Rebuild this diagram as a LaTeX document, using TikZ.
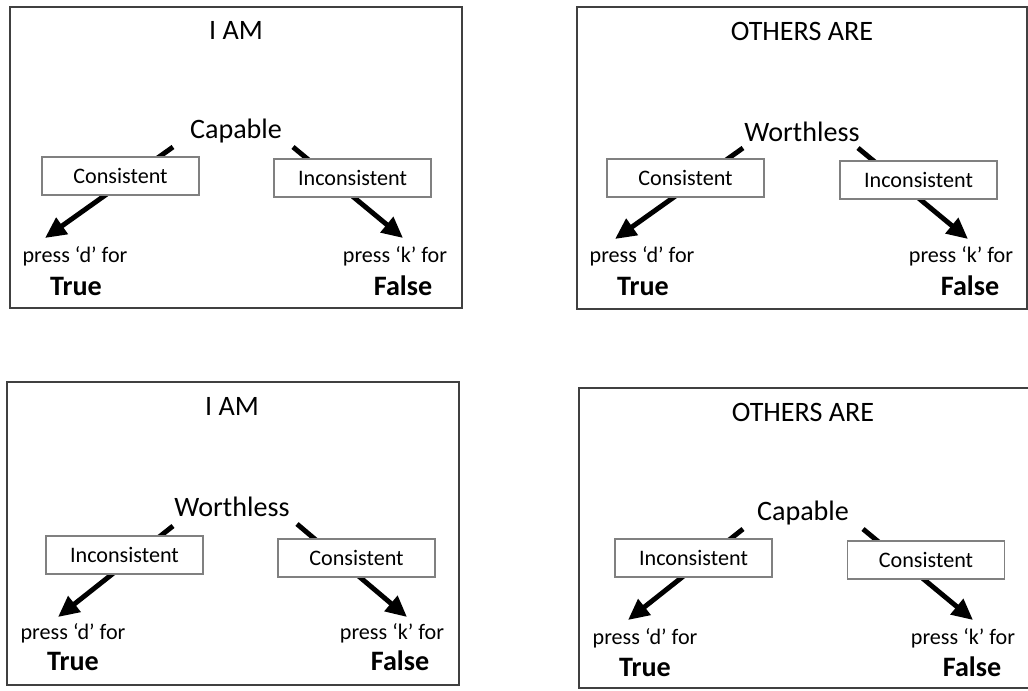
\documentclass[tikz,border=0pt]{standalone}
\usepackage{fontspec}
\setmainfont{Carlito}
\usetikzlibrary{arrows.meta}
\tikzset{
  frame/.style={draw=black!75, line width=0.85pt},
  big/.style={inner sep=0pt, font=\fontsize{16}{19}\selectfont},
  bigb/.style={inner sep=0pt, font=\fontsize{16}{19}\selectfont\bfseries},
  small/.style={inner sep=0pt, font=\fontsize{12.6}{15}\selectfont},
  opt/.style={draw=black!50, fill=white, line width=0.6pt, minimum width=3.14cm,
    minimum height=0.76cm, inner sep=0pt, font=\fontsize{12.6}{15}\selectfont},
  arr/.style={line width=2.8pt, -{Triangle[length=12pt,width=11pt]}}
}
\begin{document}
\begin{tikzpicture}[x=0.02cm, y=-0.02cm]
            \useasboundingbox ( 0, 0 ) rectangle ( 1028, 690 );

% I AM -- Capable
            \draw [frame] ( 10, 7 ) rectangle ( 462, 308 );
            \node (t1) [big] at ( 236, 30 ) {I AM};
            \node (w1) [big] at ( 236, 131 ) {Capable};
            \coordinate (a1) at ( 173, 147 );
            \coordinate (d1) at ( 45, 238 );
            \coordinate (b1) at ( 293, 147 );
            \coordinate (k1) at ( 403, 238 );
            \draw [arr] (a1) -- (d1);
            \draw [arr] (b1) -- (k1);
            \node (l1) [opt] at ( 120.5, 176 ) {Consistent};
            \node (r1) [opt] at ( 352.5, 178 ) {Inconsistent};
            \node (pd1) [small] at ( 75, 256 ) {press ‘d’ for};
            \node (tr1) [bigb] at ( 76, 286 ) {True};
            \node (pk1) [small] at ( 395, 256 ) {press ‘k’ for};
            \node (fa1) [bigb] at ( 403, 286 ) {False};

% OTHERS ARE -- Worthless
            \draw [frame] ( 577, 7 ) rectangle ( 1027, 309 );
            \node (t2) [big] at ( 802, 31 ) {OTHERS ARE};
            \node (w2) [big] at ( 802, 132 ) {Worthless};
            \coordinate (a2) at ( 743, 148 );
            \coordinate (d2) at ( 615, 239 );
            \coordinate (b2) at ( 858, 148 );
            \coordinate (k2) at ( 968, 239 );
            \draw [arr] (a2) -- (d2);
            \draw [arr] (b2) -- (k2);
            \node (l2) [opt] at ( 685.5, 178 ) {Consistent};
            \node (r2) [opt] at ( 918.5, 180 ) {Inconsistent};
            \node (pd2) [small] at ( 642, 256 ) {press ‘d’ for};
            \node (tr2) [bigb] at ( 643, 286 ) {True};
            \node (pk2) [small] at ( 961, 256 ) {press ‘k’ for};
            \node (fa2) [bigb] at ( 970, 286 ) {False};

% I AM -- Worthless
            \draw [frame] ( 7, 382 ) rectangle ( 459, 685 );
            \node (t3) [big] at ( 232, 406 ) {I AM};
            \node (w3) [big] at ( 232, 507 ) {Worthless};
            \coordinate (a3) at ( 173, 526 );
            \coordinate (d3) at ( 58, 617 );
            \coordinate (b3) at ( 297, 524 );
            \coordinate (k3) at ( 407, 617 );
            \draw [arr] (a3) -- (d3);
            \draw [arr] (b3) -- (k3);
            \node (l3) [opt] at ( 124.5, 555 ) {Inconsistent};
            \node (r3) [opt] at ( 356.5, 558 ) {Consistent};
            \node (pd3) [small] at ( 73, 633 ) {press ‘d’ for};
            \node (tr3) [bigb] at ( 73, 661 ) {True};
            \node (pk3) [small] at ( 392, 633 ) {press ‘k’ for};
            \node (fa3) [bigb] at ( 400, 661 ) {False};

% OTHERS ARE -- Capable
            \draw [frame] ( 579, 388 ) rectangle ( 1040, 688 );
            \node (t4) [big] at ( 803, 412 ) {OTHERS ARE};
            \node (w4) [big] at ( 803, 513 ) {Capable};
            \coordinate (a4) at ( 743, 529 );
            \coordinate (d4) at ( 628, 620 );
            \coordinate (b4) at ( 863, 529 );
            \coordinate (k4) at ( 973, 620 );
            \draw [arr] (a4) -- (d4);
            \draw [arr] (b4) -- (k4);
            \node (l4) [opt] at ( 693.5, 558 ) {Inconsistent};
            \node (r4) [opt] at ( 926, 560 ) {Consistent};
            \node (pd4) [small] at ( 645, 638 ) {press ‘d’ for};
            \node (tr4) [bigb] at ( 645, 667 ) {True};
            \node (pk4) [small] at ( 963, 638 ) {press ‘k’ for};
            \node (fa4) [bigb] at ( 972, 667 ) {False};
\end{tikzpicture}
\end{document}
